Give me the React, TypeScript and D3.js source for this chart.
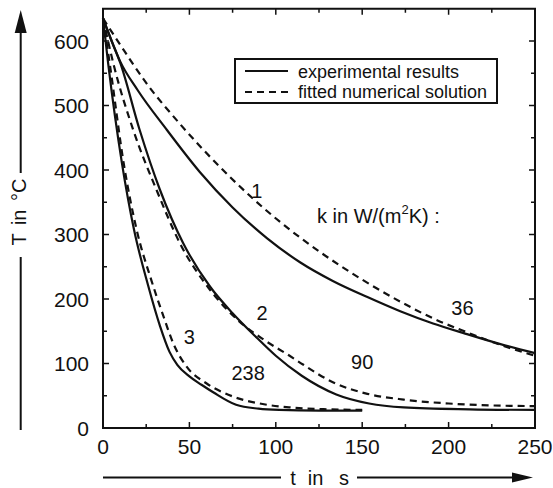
import React from "react";
import * as d3 from "d3";

type Pt = [number, number];

// t in s, T in °C
const exp1: Pt[] = [[0,635],[5,600],[10,568],[20,524],[37,462],[56,397],[75,342],[95,294],[114,257],[133,228],[153,203],[172,181],[191,162],[210,146],[230,130],[250,116]];
const fit1: Pt[] = [[0,635],[10,594],[25,535],[45,470],[65,412],[85,360],[105,314],[125,274],[150,230],[172,196],[191,170],[210,149],[230,129],[250,112]];
const exp2: Pt[] = [[0,635],[5,600],[10,566],[21,464],[33,369],[46.5,286],[62,219],[75,178],[89,140],[100,112],[115,81],[135,52],[154,38],[174,32],[212,29],[250,28]];
const fit2: Pt[] = [[0,635],[6,565],[17.5,462],[31,369],[44.6,286],[62,214],[79,165],[93,137],[108,112],[116,98],[133,71],[153,53],[174,44],[200,38],[225,35],[250,34]];
const exp3: Pt[] = [[0,635],[3,565],[11,410],[18,307],[26,222],[33,158],[38.5,118],[43,98],[50,80],[57,67],[64,55],[77,36],[90,30],[102,28],[125,27],[150,27]];
const fit3: Pt[] = [[0,635],[4,563],[12,410],[19.5,307],[28,229],[35,173],[40.7,131],[48.4,95],[60,69],[75,49],[95,36],[108,32],[130,29],[150,28]];

const xTicks = [0, 50, 100, 150, 200, 250];
const xMinor = [25, 75, 125, 175, 225];
const yTicks = [0, 100, 200, 300, 400, 500, 600];
const yMinor = [50, 150, 250, 350, 450, 550];

const curveLabels: { text: string; t: number; T: number }[] = [
  { text: "1", t: 89, T: 368 },
  { text: "2", t: 92, T: 178 },
  { text: "3", t: 50, T: 141 },
  { text: "238", t: 84, T: 85 },
  { text: "36", t: 208, T: 186 },
  { text: "90", t: 150, T: 102 },
];

const legendItems = ["experimental results", "fitted numerical solution"];

const FONT = "'Liberation Sans', Arial, Helvetica, sans-serif";

export default function App() {
  const W = 553, H = 488;
  const x = d3.scaleLinear().domain([0, 250]).range([103, 535]);
  const y = d3.scaleLinear().domain([0, 650]).range([428, 8.75]);
  const line = d3
    .line<Pt>()
    .x((d) => x(d[0]))
    .y((d) => y(d[1]))
    .curve(d3.curveMonotoneX);

  const solid = [exp1, exp2, exp3];
  const dashed = [fit1, fit2, fit3];
  const ink = "#111";
  const [x0, x1] = x.range();
  const [yb, yt] = y.range();

  return (
    <svg
      width={W}
      height={H}
      style={{ position: "absolute", left: 0, top: 0, background: "#fff" }}
      fontFamily={FONT}
    >
      {/* curves */}
      {dashed.map((d, i) => (
        <path key={"f" + i} d={line(d) || ""} fill="none" stroke={ink} strokeWidth={2.2} strokeDasharray="7,5" />
      ))}
      {solid.map((d, i) => (
        <path key={"e" + i} d={line(d) || ""} fill="none" stroke={ink} strokeWidth={2.2} />
      ))}

      {/* frame */}
      <rect x={x0} y={yt} width={x1 - x0} height={yb - yt} fill="none" stroke={ink} strokeWidth={2} />

      {/* x ticks */}
      {xTicks.map((t) => (
        <g key={"xt" + t}>
          <line x1={x(t)} x2={x(t)} y1={yb} y2={yb - 6} stroke={ink} strokeWidth={1.5} />
          <line x1={x(t)} x2={x(t)} y1={yt} y2={yt + 6} stroke={ink} strokeWidth={1.5} />
          <text x={x(t)} y={454} textAnchor="middle" fontSize={21} fill={ink}>{t}</text>
        </g>
      ))}
      {xMinor.map((t) => (
        <g key={"xm" + t}>
          <line x1={x(t)} x2={x(t)} y1={yb} y2={yb - 4} stroke={ink} strokeWidth={1.5} />
          <line x1={x(t)} x2={x(t)} y1={yt} y2={yt + 4} stroke={ink} strokeWidth={1.5} />
        </g>
      ))}
      {/* y ticks */}
      {yTicks.map((v) => (
        <g key={"yt" + v}>
          <line x1={x0} x2={x0 + 6} y1={y(v)} y2={y(v)} stroke={ink} strokeWidth={1.5} />
          <line x1={x1} x2={x1 - 6} y1={y(v)} y2={y(v)} stroke={ink} strokeWidth={1.5} />
          <text x={89} y={y(v)} dy="0.36em" textAnchor="end" fontSize={21} fill={ink}>{v}</text>
        </g>
      ))}
      {yMinor.map((v) => (
        <g key={"ym" + v}>
          <line x1={x0} x2={x0 + 4} y1={y(v)} y2={y(v)} stroke={ink} strokeWidth={1.5} />
          <line x1={x1} x2={x1 - 4} y1={y(v)} y2={y(v)} stroke={ink} strokeWidth={1.5} />
        </g>
      ))}

      {/* legend */}
      <rect x={235} y={59} width={262} height={44} fill="#fff" stroke={ink} strokeWidth={2} />
      <line x1={245} x2={288} y1={71} y2={71} stroke={ink} strokeWidth={2} />
      <line x1={245} x2={288} y1={92} y2={92} stroke={ink} strokeWidth={2} strokeDasharray="7,5" />
      <text x={298} y={77.5} fontSize={18} fill={ink}>{legendItems[0]}</text>
      <text x={298} y={98} fontSize={18} fill={ink}>{legendItems[1]}</text>

      {/* curve labels */}
      {curveLabels.map((l) => (
        <text key={l.text} x={x(l.t)} y={y(l.T)} dy="0.36em" textAnchor="middle" fontSize={20} fill={ink}>
          {l.text}
        </text>
      ))}
      <text x={317} y={223} fontSize={20} fill={ink}>
        k in W/(m
        <tspan fontSize={13} dy={-9}>2</tspan>
        <tspan dy={9}>K) :</tspan>
      </text>

      {/* y axis title with arrow */}
      <line x1={20.7} x2={20.7} y1={430} y2={257} stroke={ink} strokeWidth={2} />
      <line x1={20.7} x2={20.7} y1={173} y2={30} stroke={ink} strokeWidth={2} />
      <path d="M20.7,10 L14.7,33 L26.7,33 Z" fill={ink} />
      <text
        transform="translate(25.5,212) rotate(-90)"
        textAnchor="middle"
        fontSize={20}
        wordSpacing={3}
        fill={ink}
      >
        T in °C
      </text>

      {/* x axis title with arrow */}
      <line x1={103} x2={281} y1={477.5} y2={477.5} stroke={ink} strokeWidth={2} />
      <line x1={357} x2={515} y1={477.5} y2={477.5} stroke={ink} strokeWidth={2} />
      <path d="M533,477.5 L512,472.5 L512,482.5 Z" fill={ink} />
      <text x={293} y={485} textAnchor="middle" fontSize={20} fill={ink}>t</text>
      <text x={315.5} y={485} textAnchor="middle" fontSize={20} fill={ink}>in</text>
      <text x={344} y={485} textAnchor="middle" fontSize={20} fill={ink}>s</text>
    </svg>
  );
}
